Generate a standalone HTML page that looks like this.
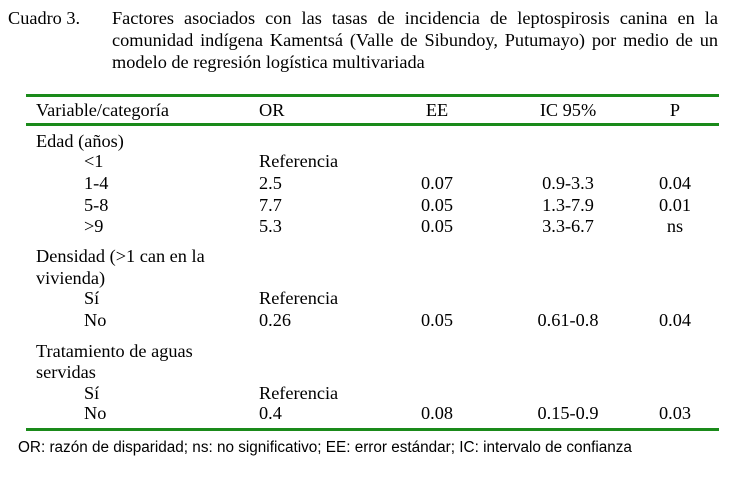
<!DOCTYPE html>
<html><head><meta charset="utf-8"><style>
body{margin:0;width:749px;height:480px;background:#fff;position:relative;overflow:hidden;font-family:"Liberation Serif",serif;font-size:18.3px;color:#000}
.t{position:absolute;white-space:nowrap;line-height:20px}
.c{transform:translateX(-50%)}
.l{position:absolute;left:26px;width:693px;height:3px;background:#1a8a1a}
.ti{position:absolute;left:112px;width:606px;text-align:justify;text-align-last:justify;line-height:20px;white-space:nowrap}
</style></head><body>
<div class="t" style="left:8px;top:8px">Cuadro 3.</div>
<div class="ti" style="top:8px">Factores asociados con las tasas de incidencia de leptospirosis canina en la</div>
<div class="ti" style="top:30px">comunidad indígena Kamentsá (Valle de Sibundoy, Putumayo) por medio de un</div>
<div class="t" style="left:112px;top:52px">modelo de regresión logística multivariada</div>
<div class="l" style="top:94px"></div>
<div class="l" style="top:123px"></div>
<div class="l" style="top:428px"></div>
<div class="t" style="left:36px;top:100px">Variable/categoría</div>
<div class="t" style="left:259px;top:100px">OR</div>
<div class="t c" style="left:437px;top:100px">EE</div>
<div class="t c" style="left:568px;top:100px">IC 95%</div>
<div class="t c" style="left:675px;top:100px">P</div>

<div class="t" style="left:36px;top:131px">Edad (años)</div>
<div class="t" style="left:84px;top:151px">&lt;1</div><div class="t" style="left:259px;top:151px">Referencia</div>
<div class="t" style="left:84px;top:173px">1-4</div><div class="t" style="left:259px;top:173px">2.5</div><div class="t c" style="left:437px;top:173px">0.07</div><div class="t c" style="left:568px;top:173px">0.9-3.3</div><div class="t c" style="left:675px;top:173px">0.04</div>
<div class="t" style="left:84px;top:195px">5-8</div><div class="t" style="left:259px;top:195px">7.7</div><div class="t c" style="left:437px;top:195px">0.05</div><div class="t c" style="left:568px;top:195px">1.3-7.9</div><div class="t c" style="left:675px;top:195px">0.01</div>
<div class="t" style="left:84px;top:216px">&gt;9</div><div class="t" style="left:259px;top:216px">5.3</div><div class="t c" style="left:437px;top:216px">0.05</div><div class="t c" style="left:568px;top:216px">3.3-6.7</div><div class="t c" style="left:675px;top:216px">ns</div>

<div class="t" style="left:36px;top:246px">Densidad (&gt;1 can en la</div>
<div class="t" style="left:36px;top:268px">vivienda)</div>
<div class="t" style="left:84px;top:288px">Sí</div><div class="t" style="left:259px;top:288px">Referencia</div>
<div class="t" style="left:84px;top:310px">No</div><div class="t" style="left:259px;top:310px">0.26</div><div class="t c" style="left:437px;top:310px">0.05</div><div class="t c" style="left:568px;top:310px">0.61-0.8</div><div class="t c" style="left:675px;top:310px">0.04</div>

<div class="t" style="left:36px;top:341px">Tratamiento de aguas</div>
<div class="t" style="left:36px;top:362px">servidas</div>
<div class="t" style="left:84px;top:383px">Sí</div><div class="t" style="left:259px;top:383px">Referencia</div>
<div class="t" style="left:84px;top:403px">No</div><div class="t" style="left:259px;top:403px">0.4</div><div class="t c" style="left:437px;top:403px">0.08</div><div class="t c" style="left:568px;top:403px">0.15-0.9</div><div class="t c" style="left:675px;top:403px">0.03</div>

<div class="t" style="left:18px;top:438px;font-family:'Liberation Sans',sans-serif;font-size:15.3px">OR: razón de disparidad; ns: no significativo; EE: error estándar; IC: intervalo de confianza</div>
</body></html>
